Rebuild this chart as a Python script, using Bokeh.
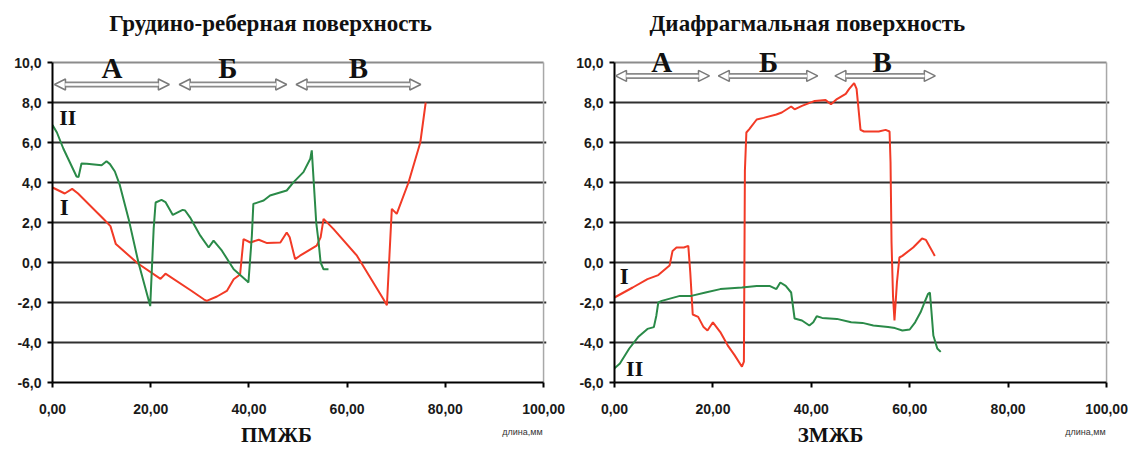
from bokeh.plotting import figure
from bokeh.models import Range1d, FixedTicker, Label, Arrow, NormalHead
from bokeh.layouts import row, column
from bokeh.embed import file_html
from bokeh.resources import INLINE

# ---------------- data ----------------
y_ticks = [-6, -4, -2, 0, 2, 4, 6, 8, 10]
y_tick_labels = ["-6,0", "-4,0", "-2,0", "0,0", "2,0", "4,0", "6,0", "8,0", "10,0"]
x_ticks = [0, 20, 40, 60, 80, 100]
x_tick_labels = ["0,00", "20,00", "40,00", "60,00", "80,00", "100,00"]

titles = ["Грудино-реберная поверхность", "Диафрагмальная поверхность"]
x_titles = ["ПМЖБ", "ЗМЖБ"]
unit_label = "длина,мм"
zone_names = ["А", "Б", "В"]
series_names = ["I", "II"]

# left chart (Грудино-реберная поверхность)
left_red_x = [0, 2.5, 4.0, 5.2, 10.5, 11.8, 12.9, 17.4, 22.0, 23.0, 28.2, 30.8, 31.4, 33.5, 35.5, 36.9,
              38.2, 38.9, 40.3, 42.0, 43.7, 46.4, 47.7, 48.3, 49.4, 50.4, 53.8, 54.6, 55.2, 57.2,
              62.0, 67.4, 68.1, 69.1, 70.1, 72.5, 74.9, 76.0]
left_red_y = [3.75, 3.45, 3.68, 3.45, 2.15, 1.82, 0.92, -0.05, -0.82, -0.56, -1.4, -1.84, -1.92, -1.7,
              -1.42, -0.84, -0.6, 1.17, 1.0, 1.14, 0.97, 1.0, 1.5, 1.26, 0.17, 0.34, 0.84, 1.26, 2.18,
              1.68, 0.34, -1.84, -2.14, 2.68, 2.43, 4.0, 6.0, 8.0]
left_green_x = [0, 0.9, 2.2, 4.9, 5.3, 5.9, 7.0, 10.0, 11.0, 11.7, 12.7, 13.7, 15.5, 17.5, 19.9, 20.6,
                21.0, 22.2, 23.0, 24.5, 26.5, 27.0, 28.0, 30.1, 31.8, 32.8, 34.5, 36.9, 39.6, 39.9,
                40.6, 40.9, 42.0, 43.0, 44.3, 47.7, 49.1, 51.1, 52.5, 52.8, 53.2, 53.7, 54.2, 54.6,
                55.2, 56.2]
left_green_y = [6.87, 6.5, 5.7, 4.3, 4.27, 4.95, 4.94, 4.86, 5.06, 4.92, 4.55, 3.88, 2.18, 0.0, -2.18,
                1.68, 3.0, 3.13, 3.02, 2.38, 2.63, 2.6, 2.26, 1.34, 0.75, 1.09, 0.59, -0.34, -0.92,
                -1.0, 1.34, 2.93, 3.02, 3.1, 3.35, 3.6, 4.02, 4.52, 5.19, 5.61, 4.02, 2.01, 1.0, 0.0,
                -0.34, -0.34]
left_zone_start = [0.4, 25.8, 49.6]
left_zone_end = [23.8, 47.7, 75.0]
left_zone_mid = [12.1, 35.7, 62.3]

# right chart (Диафрагмальная поверхность)
right_red_x = [0, 3.7, 6.7, 8.9, 10.7, 11.2, 11.8, 12.6, 14.1, 15.0, 15.4, 15.9, 17.0, 18.1, 18.9, 20.0,
               21.5, 23.0, 24.4, 25.9, 26.3, 26.5, 26.8, 27.4, 28.9, 30.3, 32.9, 34.0, 35.9, 36.6,
               38.1, 40.7, 42.9, 44.0, 45.2, 47.0, 47.7, 48.7, 49.2, 50.0, 50.7, 53.7, 55.1, 55.9,
               56.1, 56.3, 56.6, 56.9, 57.4, 57.9, 58.5, 60.7, 62.5, 63.3, 65.1]
right_red_y = [-1.75, -1.25, -0.83, -0.63, -0.25, -0.15, 0.58, 0.75, 0.75, 0.83, -0.5, -2.6, -2.72,
               -3.23, -3.4, -2.99, -3.48, -4.14, -4.63, -5.21, -4.96, 4.58, 6.5, 6.67, 7.15, 7.23,
               7.4, 7.5, 7.8, 7.66, 7.83, 8.08, 8.12, 7.91, 8.17, 8.43, 8.68, 8.97, 8.68, 6.63, 6.55,
               6.55, 6.63, 6.55, 5.0, 1.0, -1.67, -2.9, -1.0, 0.25, 0.33, 0.75, 1.2, 1.13, 0.33]
right_green_x = [0, 1.1, 3.0, 4.8, 6.7, 8.0, 8.5, 8.9, 9.6, 13.3, 15.6, 18.5, 21.5, 25.9, 28.9, 31.5,
                 32.9, 33.7, 34.8, 35.9, 36.6, 38.1, 39.6, 40.4, 41.1, 42.2, 45.2, 48.1, 50.4, 52.6,
                 55.6, 57.0, 58.5, 60.0, 61.1, 62.2, 63.0, 63.7, 64.1, 64.4, 64.8, 65.6, 66.3]
right_green_y = [-5.29, -5.05, -4.3, -3.73, -3.32, -3.23, -2.66, -2.0, -1.92, -1.67, -1.67, -1.5,
                 -1.33, -1.25, -1.17, -1.17, -1.33, -1.0, -1.17, -1.5, -2.8, -2.9, -3.15, -2.99,
                 -2.69, -2.77, -2.82, -2.99, -3.02, -3.15, -3.23, -3.28, -3.4, -3.35, -2.99, -2.49,
                 -2.0, -1.58, -1.5, -2.4, -3.65, -4.3, -4.47]
right_zone_start = [0.2, 21.1, 44.8]
right_zone_end = [19.3, 41.3, 65.2]
right_zone_mid = [9.6, 31.3, 54.4]

RED = "#f23a26"
GREEN = "#2a8a48"
SERIF = "Liberation Serif"
SANS = "Liberation Sans"

MAIN_H = 420       # main figure height (frame from top of canvas to the x axis)
FOOT_H = 28        # footer figure height
BOTTOM_B = 38      # space for x tick labels
X_END = 100.6      # a little beyond 100 so the right border is not clipped
Y_TOP = 13.1       # room above 10 for title and zone letters


def make_fig(width, bl, br, title, title_x, xtitle, xtitle_x, unit_x,
             red_x, red_y, green_x, green_y,
             z_start, z_end, z_mid, arrow_y, letter_y,
             i_pos, ii_pos):
    p = figure(width=width, height=MAIN_H, output_backend="svg", toolbar_location=None,
               x_range=Range1d(0, X_END), y_range=Range1d(y_ticks[0], Y_TOP),
               min_border_left=bl, min_border_right=br, min_border_top=0,
               min_border_bottom=BOTTOM_B)
    p.background_fill_color = "white"
    p.border_fill_color = "white"
    p.outline_line_color = None

    p.xgrid.visible = False
    p.ygrid.ticker = FixedTicker(ticks=y_ticks[1:-1])
    p.ygrid.grid_line_color = "#303030"
    p.ygrid.grid_line_width = 2

    p.yaxis.ticker = FixedTicker(ticks=y_ticks)
    p.yaxis.bounds = (y_ticks[0], y_ticks[-1])
    p.yaxis.major_label_overrides = {t: s for t, s in zip(y_ticks, y_tick_labels)}
    p.xaxis.ticker = FixedTicker(ticks=x_ticks)
    p.xaxis.bounds = (x_ticks[0], x_ticks[-1])
    p.xaxis.major_label_overrides = {t: s for t, s in zip(x_ticks, x_tick_labels)}
    for ax in (p.xaxis, p.yaxis):
        ax.axis_line_color = "black"
        ax.axis_line_width = 2
        ax.major_tick_line_color = "black"
        ax.major_tick_line_width = 2
        ax.major_tick_in = 0
        ax.major_tick_out = 5
        ax.minor_tick_line_color = None
        ax.major_label_text_font = SANS
        ax.major_label_text_font_style = "bold"
        ax.major_label_text_font_size = "14px"
        ax.major_label_text_color = "#1a1a1a"
    p.xaxis.major_label_standoff = 16
    p.yaxis.major_label_standoff = 6

    # plot-area border: top line at 10 and right edge at 100
    p.segment(x0=[x_ticks[0]], y0=[y_ticks[-1]], x1=[x_ticks[-1]], y1=[y_ticks[-1]],
              line_color="#8c8c8c", line_width=2)
    p.segment(x0=[x_ticks[-1]], y0=[y_ticks[0]], x1=[x_ticks[-1]], y1=[y_ticks[-1]],
              line_color="#a8a8a8", line_width=1.5)

    p.line(red_x, red_y, line_color=RED, line_width=2)
    p.line(green_x, green_y, line_color=GREEN, line_width=2)

    # zone arrows
    for xs, xe, xm, name in zip(z_start, z_end, z_mid, zone_names):
        p.add_layout(Arrow(x_start=xs, y_start=arrow_y, x_end=xe, y_end=arrow_y,
                           line_color="#8a8a8a", line_width=6,
                           start=NormalHead(size=11, fill_color="white", line_color="#7a7a7a", line_width=1.5),
                           end=NormalHead(size=11, fill_color="white", line_color="#7a7a7a", line_width=1.5)))
        p.add_layout(Arrow(x_start=xs + 2.2, y_start=arrow_y, x_end=xe - 2.2, y_end=arrow_y,
                           line_color="white", line_width=2.5, start=None, end=None))
        p.add_layout(Label(x=xm, y=letter_y, text=name, text_font=SERIF, text_font_style="bold",
                           text_font_size="29px", text_align="center", text_baseline="middle",
                           text_color="#111111"))

    p.add_layout(Label(x=i_pos[0], y=i_pos[1], text=series_names[0], text_font=SERIF,
                       text_font_style="bold", text_font_size="23px", text_align="center",
                       text_baseline="middle", text_color="#111111"))
    p.add_layout(Label(x=ii_pos[0], y=ii_pos[1], text=series_names[1], text_font=SERIF,
                       text_font_style="bold", text_font_size="22px", text_align="center",
                       text_baseline="middle", text_color="#111111"))

    p.add_layout(Label(x=title_x, y=11.95, text=title, text_font=SERIF, text_font_style="bold",
                       text_font_size="23px", text_align="center", text_baseline="middle",
                       text_color="#111111"))

    # footer with axis title and unit label, aligned to the main frame
    frame_w = width - bl - br
    ppu = frame_w / X_END
    f = figure(width=width, height=FOOT_H, output_backend="svg", toolbar_location=None,
               x_range=Range1d(-bl / ppu, (width - bl) / ppu), y_range=Range1d(0, FOOT_H),
               x_axis_type=None, y_axis_type=None,
               min_border_left=0, min_border_right=0, min_border_top=0, min_border_bottom=0)
    f.outline_line_color = None
    f.background_fill_color = "white"
    f.border_fill_color = "white"
    f.add_layout(Label(x=xtitle_x, y=14, text=xtitle, text_font=SERIF, text_font_style="bold",
                       text_font_size="21px", text_align="center", text_baseline="middle",
                       text_color="#111111"))
    f.add_layout(Label(x=unit_x, y=17, text=unit_label, text_font=SANS,
                       text_font_size="9px", text_align="center", text_baseline="middle",
                       text_color="#333333"))
    return p, f


p1, f1 = make_fig(565, 52, 19, titles[0], 44.4, x_titles[0], 45.6, 95.7,
                  left_red_x, left_red_y, left_green_x, left_green_y,
                  left_zone_start, left_zone_end, left_zone_mid, 8.9, 9.75,
                  (2.4, 2.75), (3.1, 7.25))
p2, f2 = make_fig(563, 49, 19, titles[1], 39.2, x_titles[1], 43.9, 95.7,
                  right_red_x, right_red_y, right_green_x, right_green_y,
                  right_zone_start, right_zone_end, right_zone_mid, 9.33, 10.05,
                  (2.0, -0.7), (4.1, -5.3))

layout = column(row(p1, p2), row(f1, f2))
open("out.html", "w").write(file_html(layout, INLINE))
